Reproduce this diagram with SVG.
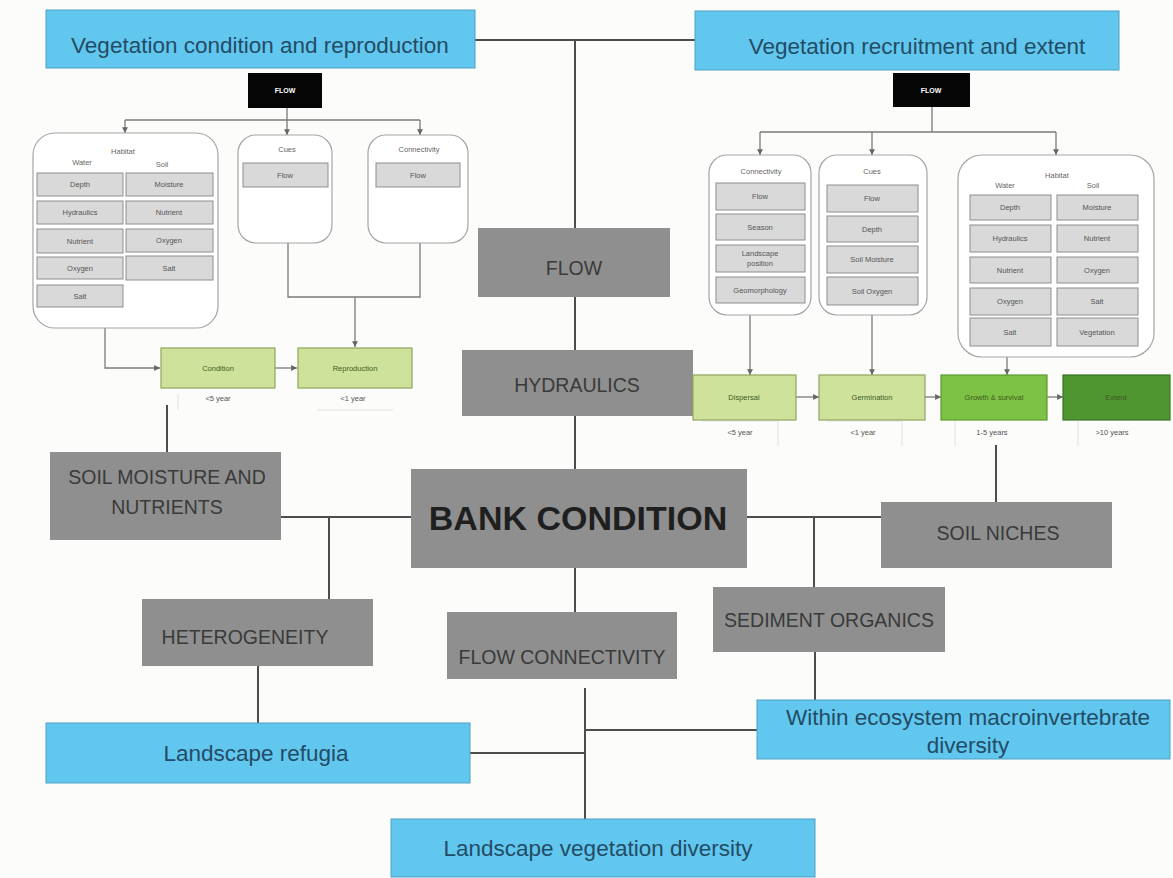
<svg xmlns="http://www.w3.org/2000/svg" width="1173" height="878" viewBox="0 0 1173 878">
  <defs>
    <marker id="arr" viewBox="0 0 6 6" refX="6" refY="3" markerWidth="4.5" markerHeight="4.5" orient="auto">
      <path d="M0,0 L6,3 L0,6 z" fill="#666"/>
    </marker>
    <style>
      .bg { fill: #fcfcfb; }
      .ln { stroke: #4d4d4d; stroke-width: 2; fill: none; }
      .sl { stroke: #7a7a7a; stroke-width: 1.3; fill: none; }
      .faint { stroke: #e2e2e2; stroke-width: 1; fill: none; }
      .gbox { fill: #8f8f8f; }
      .bbox { fill: #62c7ee; stroke: #4f9fc2; stroke-width: 1; }
      .gtxt { font-family: "Liberation Sans", Arial, sans-serif; font-size: 19.5px; fill: #3a3a3a; text-anchor: middle; }
      .big { font-family: "Liberation Sans", Arial, sans-serif; font-size: 34px; font-weight: bold; fill: #1f1f1f; text-anchor: middle; }
      .btxt { font-family: "Liberation Sans", Arial, sans-serif; font-size: 22.5px; fill: #234c66; text-anchor: middle; }
      .blk { fill: #050505; }
      .blktxt { font-family: "Liberation Sans", Arial, sans-serif; font-size: 7px; font-weight: bold; fill: #ffffff; text-anchor: middle; }
      .cont { fill: #ffffff; stroke: #a5a5a5; stroke-width: 1.2; }
      .cell { fill: #d9d9d9; stroke: #8e8e8e; stroke-width: 1; }
      .st { font-family: "Liberation Sans", Arial, sans-serif; font-size: 7.5px; fill: #555555; text-anchor: middle; }
      .hd { font-family: "Liberation Sans", Arial, sans-serif; font-size: 7.5px; fill: #666666; text-anchor: middle; }
      .lg { fill: #cfe29c; stroke: #8fa65e; stroke-width: 1.2; }
      .mg { fill: #7dc244; stroke: #5d9a30; stroke-width: 1.2; }
      .dg { fill: #4f9530; stroke: #3b7424; stroke-width: 1.2; }
      .gt { font-family: "Liberation Sans", Arial, sans-serif; font-size: 7.5px; fill: #3d5a1c; text-anchor: middle; }
      .tl { font-family: "Liberation Sans", Arial, sans-serif; font-size: 7.5px; fill: #555555; text-anchor: middle; }
    </style>
  </defs>

  <rect class="bg" x="0" y="0" width="1173" height="878"/>

  <!-- connectors -->
  <g id="connectors">
    <!-- main structure -->
    <path class="ln" d="M475,40 H695"/>
    <path class="ln" d="M575,40 V228"/>
    <path class="ln" d="M575,297 V350"/>
    <path class="ln" d="M575,416 V469"/>
    <path class="ln" d="M575,568 V612"/>
    <path class="ln" d="M281,517 H411"/>
    <path class="ln" d="M329,517 V599"/>
    <path class="ln" d="M747,517 H881"/>
    <path class="ln" d="M814,517 V587"/>
    <path class="ln" d="M996,445 V502"/>
    <path class="ln" d="M167,405 V452"/>
    <path class="ln" d="M258,666 V723"/>
    <path class="ln" d="M585,688 V819"/>
    <path class="ln" d="M470,753 H585"/>
    <path class="ln" d="M585,730 H757"/>
    <path class="ln" d="M815,652 V700"/>

    <!-- left sub-model -->
    <path class="sl" d="M287,108 V120"/>
    <path class="sl" d="M125,120 H420"/>
    <path class="sl" d="M125,120 V133" marker-end="url(#arr)"/>
    <path class="sl" d="M287,120 V135" marker-end="url(#arr)"/>
    <path class="sl" d="M420,120 V135" marker-end="url(#arr)"/>
    <path class="sl" d="M105,328 V368 H160" marker-end="url(#arr)"/>
    <path class="sl" d="M288,243 V297 H420 V243"/>
    <path class="sl" d="M355,297 V347" marker-end="url(#arr)"/>
    <path class="sl" d="M275,368 H297" marker-end="url(#arr)"/>
    <path class="faint" d="M178,394 V410 M317,410 H393"/>

    <!-- right sub-model -->
    <path class="sl" d="M932,107 V132"/>
    <path class="sl" d="M760,132 H1056"/>
    <path class="sl" d="M760,132 V155" marker-end="url(#arr)"/>
    <path class="sl" d="M872,132 V155" marker-end="url(#arr)"/>
    <path class="sl" d="M1056,132 V155" marker-end="url(#arr)"/>
    <path class="sl" d="M750,315 V375" marker-end="url(#arr)"/>
    <path class="sl" d="M872,315 V375" marker-end="url(#arr)"/>
    <path class="sl" d="M1007,357 V375" marker-end="url(#arr)"/>
    <path class="sl" d="M796,397 H819" marker-end="url(#arr)"/>
    <path class="sl" d="M925,397 H941" marker-end="url(#arr)"/>
    <path class="sl" d="M1047,397 H1063" marker-end="url(#arr)"/>
    <path class="faint" d="M702,421 H778 V446 M827,421 H902 V446 M955,421 V446 M1078,421 V446"/>
  </g>

  <!-- outcome boxes -->
  <g id="veg-condition">
    <rect class="bbox" x="46" y="10" width="429" height="58"/>
    <text class="btxt" x="260" y="53" font-size="23">Vegetation condition and reproduction</text>
  </g>
  <g id="veg-recruitment">
    <rect class="bbox" x="695" y="11" width="424" height="59"/>
    <text class="btxt" x="917" y="54" font-size="23">Vegetation recruitment and extent</text>
  </g>
  <g id="landscape-refugia">
    <rect class="bbox" x="46" y="723" width="424" height="60"/>
    <text class="btxt" x="256" y="761">Landscape refugia</text>
  </g>
  <g id="landscape-veg-diversity">
    <rect class="bbox" x="391" y="819" width="424" height="58"/>
    <text class="btxt" x="598" y="856">Landscape vegetation diversity</text>
  </g>
  <g id="macroinvertebrate-diversity">
    <rect class="bbox" x="757" y="700" width="413" height="59"/>
    <text class="btxt" x="968" y="725">Within ecosystem macroinvertebrate</text>
    <text class="btxt" x="968" y="753">diversity</text>
  </g>

  <!-- driver boxes -->
  <g id="flow">
    <rect class="gbox" x="478" y="228" width="192" height="69"/>
    <text class="gtxt" x="574" y="275">FLOW</text>
  </g>
  <g id="hydraulics">
    <rect class="gbox" x="462" y="350" width="231" height="66"/>
    <text class="gtxt" x="577" y="392">HYDRAULICS</text>
  </g>
  <g id="bank-condition">
    <rect class="gbox" x="411" y="469" width="336" height="99"/>
    <text class="big" x="578" y="530">BANK CONDITION</text>
  </g>
  <g id="soil-moisture">
    <rect class="gbox" x="50" y="452" width="231" height="88"/>
    <text class="gtxt" x="167" y="484">SOIL MOISTURE AND</text>
    <text class="gtxt" x="167" y="514">NUTRIENTS</text>
  </g>
  <g id="soil-niches">
    <rect class="gbox" x="881" y="502" width="231" height="66"/>
    <text class="gtxt" x="998" y="540">SOIL NICHES</text>
  </g>
  <g id="heterogeneity">
    <rect class="gbox" x="142" y="599" width="231" height="67"/>
    <text class="gtxt" x="245" y="644">HETEROGENEITY</text>
  </g>
  <g id="flow-connectivity">
    <rect class="gbox" x="447" y="612" width="230" height="67"/>
    <text class="gtxt" x="562" y="664">FLOW CONNECTIVITY</text>
  </g>
  <g id="sediment-organics">
    <rect class="gbox" x="713" y="587" width="232" height="65"/>
    <text class="gtxt" x="829" y="627">SEDIMENT ORGANICS</text>
  </g>

  <!-- condition and reproduction sub-model -->
  <g id="flow-left">
    <rect class="blk" x="248" y="73" width="74" height="35"/>
    <text class="blktxt" x="285" y="93">FLOW</text>
  </g>
  <g id="habitat-left">
    <rect class="cont" x="33" y="133" width="185" height="195" rx="22"/>
    <text class="hd" x="123" y="154">Habitat</text>
    <text class="hd" x="82" y="165">Water</text>
    <text class="hd" x="162" y="167">Soil</text>
    <rect class="cell" x="37" y="173" width="86" height="23"/><text class="st" x="80" y="187">Depth</text>
    <rect class="cell" x="37" y="201" width="86" height="23"/><text class="st" x="80" y="215">Hydraulics</text>
    <rect class="cell" x="37" y="229" width="86" height="24"/><text class="st" x="80" y="244">Nutrient</text>
    <rect class="cell" x="37" y="257" width="86" height="22"/><text class="st" x="80" y="271">Oxygen</text>
    <rect class="cell" x="37" y="285" width="86" height="22"/><text class="st" x="80" y="299">Salt</text>
    <rect class="cell" x="126" y="173" width="87" height="23"/><text class="st" x="169" y="187">Moisture</text>
    <rect class="cell" x="126" y="201" width="87" height="23"/><text class="st" x="169" y="215">Nutrient</text>
    <rect class="cell" x="126" y="229" width="87" height="23"/><text class="st" x="169" y="243">Oxygen</text>
    <rect class="cell" x="126" y="256" width="87" height="24"/><text class="st" x="169" y="271">Salt</text>
  </g>
  <g id="cues-left">
    <rect class="cont" x="238" y="135" width="94" height="108" rx="18"/>
    <text class="hd" x="287" y="152">Cues</text>
    <rect class="cell" x="243" y="163" width="85" height="24"/><text class="st" x="285" y="178">Flow</text>
  </g>
  <g id="connectivity-left">
    <rect class="cont" x="368" y="135" width="100" height="108" rx="18"/>
    <text class="hd" x="419" y="152">Connectivity</text>
    <rect class="cell" x="376" y="163" width="84" height="24"/><text class="st" x="418" y="178">Flow</text>
  </g>
  <g id="condition">
    <rect class="lg" x="161" y="348" width="114" height="40"/>
    <text class="gt" x="218" y="371">Condition</text>
    <text class="tl" x="218" y="401">&lt;5 year</text>
  </g>
  <g id="reproduction">
    <rect class="lg" x="298" y="348" width="114" height="40"/>
    <text class="gt" x="355" y="371">Reproduction</text>
    <text class="tl" x="353" y="401">&lt;1 year</text>
  </g>

  <!-- recruitment and extent sub-model -->
  <g id="flow-right">
    <rect class="blk" x="893" y="73" width="77" height="34"/>
    <text class="blktxt" x="931" y="93">FLOW</text>
  </g>
  <g id="connectivity-right">
    <rect class="cont" x="709" y="155" width="102" height="160" rx="18"/>
    <text class="hd" x="761" y="174">Connectivity</text>
    <rect class="cell" x="716" y="183" width="89" height="27"/><text class="st" x="760" y="199">Flow</text>
    <rect class="cell" x="716" y="214" width="89" height="26"/><text class="st" x="760" y="230">Season</text>
    <rect class="cell" x="716" y="245" width="89" height="27"/><text class="st" x="760" y="256">Landscape</text><text class="st" x="760" y="266">position</text>
    <rect class="cell" x="716" y="277" width="89" height="26"/><text class="st" x="760" y="293">Geomorphology</text>
  </g>
  <g id="cues-right">
    <rect class="cont" x="819" y="155" width="108" height="160" rx="18"/>
    <text class="hd" x="872" y="174">Cues</text>
    <rect class="cell" x="827" y="185" width="91" height="27"/><text class="st" x="872" y="201">Flow</text>
    <rect class="cell" x="827" y="216" width="91" height="26"/><text class="st" x="872" y="232">Depth</text>
    <rect class="cell" x="827" y="246" width="91" height="27"/><text class="st" x="872" y="262">Soil Moisture</text>
    <rect class="cell" x="827" y="277" width="91" height="28"/><text class="st" x="872" y="294">Soil Oxygen</text>
  </g>
  <g id="habitat-right">
    <rect class="cont" x="958" y="155" width="196" height="202" rx="24"/>
    <text class="hd" x="1057" y="178">Habitat</text>
    <text class="hd" x="1005" y="188">Water</text>
    <text class="hd" x="1093" y="188">Soil</text>
    <rect class="cell" x="970" y="195" width="81" height="25"/><text class="st" x="1010" y="210">Depth</text>
    <rect class="cell" x="970" y="225" width="81" height="27"/><text class="st" x="1010" y="241">Hydraulics</text>
    <rect class="cell" x="970" y="257" width="81" height="26"/><text class="st" x="1010" y="273">Nutrient</text>
    <rect class="cell" x="970" y="288" width="81" height="27"/><text class="st" x="1010" y="304">Oxygen</text>
    <rect class="cell" x="970" y="318" width="81" height="28"/><text class="st" x="1010" y="335">Salt</text>
    <rect class="cell" x="1057" y="195" width="81" height="25"/><text class="st" x="1097" y="210">Moisture</text>
    <rect class="cell" x="1057" y="225" width="81" height="27"/><text class="st" x="1097" y="241">Nutrient</text>
    <rect class="cell" x="1057" y="257" width="81" height="26"/><text class="st" x="1097" y="273">Oxygen</text>
    <rect class="cell" x="1057" y="288" width="81" height="27"/><text class="st" x="1097" y="304">Salt</text>
    <rect class="cell" x="1057" y="318" width="81" height="28"/><text class="st" x="1097" y="335">Vegetation</text>
  </g>
  <g id="dispersal">
    <rect class="lg" x="693" y="375" width="103" height="45"/>
    <text class="gt" x="744" y="400">Dispersal</text>
    <text class="tl" x="740" y="435">&lt;5 year</text>
  </g>
  <g id="germination">
    <rect class="lg" x="819" y="375" width="106" height="45"/>
    <text class="gt" x="872" y="400">Germination</text>
    <text class="tl" x="863" y="435">&lt;1 year</text>
  </g>
  <g id="growth-survival">
    <rect class="mg" x="941" y="375" width="106" height="45"/>
    <text class="gt" x="994" y="400">Growth &amp; survival</text>
    <text class="tl" x="992" y="435">1-5 years</text>
  </g>
  <g id="extent">
    <rect class="dg" x="1063" y="375" width="107" height="45"/>
    <text class="gt" x="1116" y="400">Extent</text>
    <text class="tl" x="1112" y="435">&gt;10 years</text>
  </g>
</svg>
